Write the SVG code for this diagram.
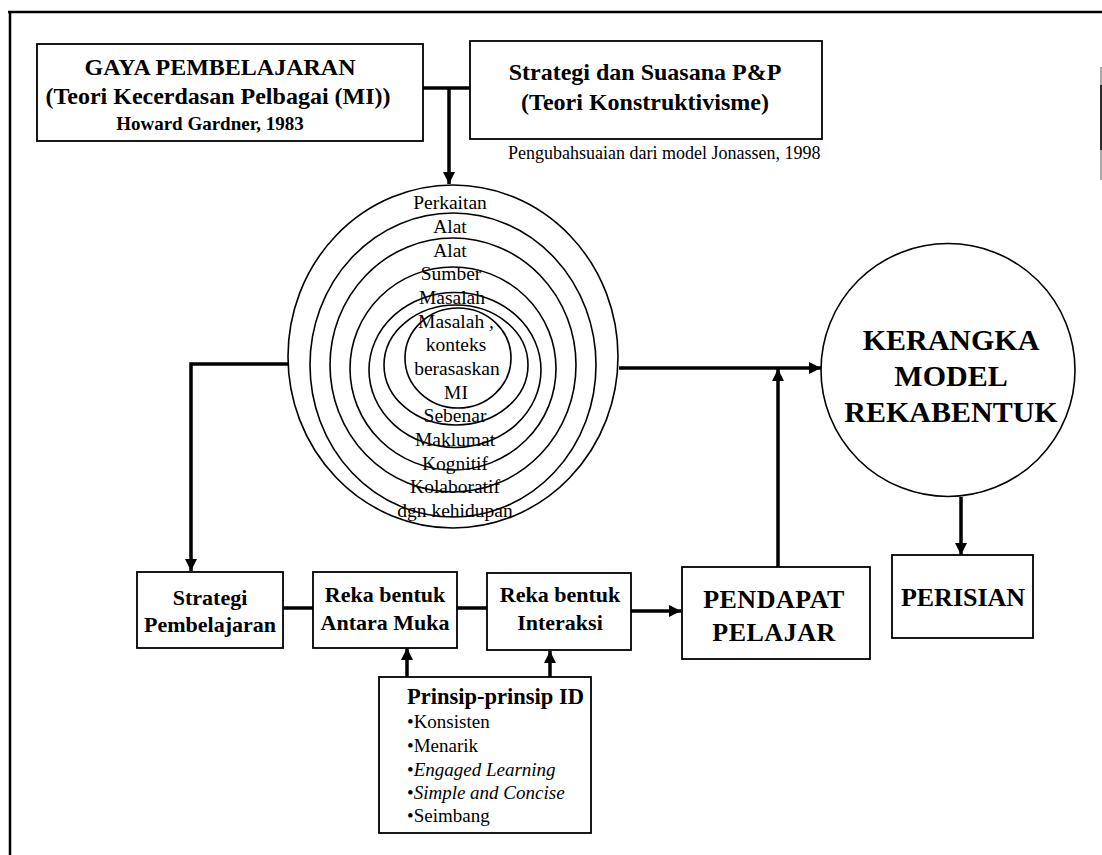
<svg xmlns="http://www.w3.org/2000/svg" width="1102" height="855" viewBox="0 0 1102 855">
<style>
text{font-family:"Liberation Serif","Times New Roman",serif;fill:#000}
.b{font-weight:bold}
.box{fill:#fff;stroke:#000;stroke-width:1.8}
.ring{fill:none;stroke:#000;stroke-width:1.6}
.con{fill:none;stroke:#000;stroke-width:3.5}
.ct{font-size:19.5px;text-anchor:middle}
.bt{font-size:22px;font-weight:bold;text-anchor:middle}
.li{font-size:19px}
</style>
<defs>
<marker id="ah" markerUnits="userSpaceOnUse" markerWidth="14" markerHeight="12" refX="12" refY="6" orient="auto" viewBox="0 0 14 12">
<path d="M0,0 L12,6 L0,12 z" fill="#000"/>
</marker>
</defs>
<rect width="1102" height="855" fill="#fff"/>
<g id="frame" fill="none" stroke="#000">
<path d="M8,12 H1102 M10,12 V855" stroke-width="2.5"/>
<path d="M1101,67 V180" stroke-width="1" stroke="#555"/>
<path d="M1101,85 V150" stroke-width="1.5"/>
</g>
<g id="connectors">
<path class="con" d="M423,88 H470"/>
<path class="con" d="M449,88 V184" marker-end="url(#ah)"/>
<path class="con" d="M289,364 H191 V571" marker-end="url(#ah)"/>
<path class="con" d="M283,608 H313"/>
<path class="con" d="M457,608 H487"/>
<path class="con" d="M631,611 H681" marker-end="url(#ah)"/>
<path class="con" d="M778,567 V369" marker-end="url(#ah)"/>
<path class="con" d="M619,368 H821" marker-end="url(#ah)"/>
<path class="con" d="M961,497 V555" marker-end="url(#ah)"/>
<path class="con" d="M407,677 V648" marker-end="url(#ah)"/>
<path class="con" d="M550,677 V651" marker-end="url(#ah)"/>
</g>
<g id="gaya">
<rect class="box" x="37" y="44" width="386" height="97"/>
<text x="220" y="75" class="b" font-size="24" text-anchor="middle">GAYA PEMBELAJARAN</text>
<text x="218" y="104" class="b" font-size="24" text-anchor="middle">(Teori Kecerdasan Pelbagai (MI))</text>
<text x="210" y="130" class="b" font-size="19" text-anchor="middle">Howard Gardner, 1983</text>
</g>
<g id="strategi-suasana">
<rect class="box" x="470" y="41" width="352" height="98"/>
<text x="645" y="80" class="b" font-size="24" text-anchor="middle">Strategi dan Suasana P&amp;P</text>
<text x="645" y="110" class="b" font-size="24" text-anchor="middle">(Teori Konstruktivisme)</text>
</g>
<g id="sumber-nota">
<text x="508" y="159" font-size="18">Pengubahsuaian dari model Jonassen, 1998</text>
</g>
<g id="model-jonassen">
<ellipse class="ring" cx="453" cy="356.5" rx="165" ry="171.5"/>
<ellipse class="ring" cx="453" cy="365" rx="143" ry="152"/>
<ellipse class="ring" cx="453" cy="365" rx="123" ry="127"/>
<ellipse class="ring" cx="453" cy="368.5" rx="103" ry="101.5"/>
<ellipse class="ring" cx="455" cy="370" rx="86" ry="77.5"/>
<ellipse class="ring" cx="456" cy="365" rx="72" ry="60"/>
<ellipse class="ring" cx="458" cy="358" rx="53" ry="50"/>
<text class="ct" x="450" y="209">Perkaitan</text>
<text class="ct" x="450" y="233">Alat</text>
<text class="ct" x="450" y="256.6">Alat</text>
<text class="ct" x="451" y="280.3">Sumber</text>
<text class="ct" x="452" y="303.9">Masalah</text>
<text class="ct" x="456" y="327.6">Masalah ,</text>
<text class="ct" x="456" y="351.2">konteks</text>
<text class="ct" x="457" y="374.9">berasaskan</text>
<text class="ct" x="456" y="398.5">MI</text>
<text class="ct" x="455" y="422.2">Sebenar</text>
<text class="ct" x="455" y="445.8">Maklumat</text>
<text class="ct" x="455" y="469.5">Kognitif</text>
<text class="ct" x="455" y="493.1">Kolaboratif</text>
<text class="ct" x="455" y="516.8">dgn kehidupan</text>
</g>
<g id="kerangka">
<ellipse class="ring" cx="948" cy="370" rx="127" ry="126.5"/>
<text x="951" y="350" class="b" font-size="30" text-anchor="middle">KERANGKA</text>
<text x="951" y="386" class="b" font-size="30" text-anchor="middle">MODEL</text>
<text x="951" y="422" class="b" font-size="30" text-anchor="middle">REKABENTUK</text>
</g>
<g id="strategi-pembelajaran">
<rect class="box" x="137" y="572" width="146" height="76"/>
<text class="bt" x="210" y="605">Strategi</text>
<text class="bt" x="210" y="632">Pembelajaran</text>
</g>
<g id="reka-antara-muka">
<rect class="box" x="313" y="572" width="144" height="76"/>
<text class="bt" x="385" y="602">Reka bentuk</text>
<text class="bt" x="385" y="630">Antara Muka</text>
</g>
<g id="reka-interaksi">
<rect class="box" x="487" y="573" width="144" height="77"/>
<text class="bt" x="560" y="602">Reka bentuk</text>
<text class="bt" x="560" y="630">Interaksi</text>
</g>
<g id="pendapat-pelajar">
<rect class="box" x="682" y="567" width="188" height="92"/>
<text x="774" y="608" class="b" font-size="26" text-anchor="middle" letter-spacing="0.5">PENDAPAT</text>
<text x="774" y="641" class="b" font-size="26" text-anchor="middle" letter-spacing="0.5">PELAJAR</text>
</g>
<g id="perisian">
<rect class="box" x="892" y="555" width="141" height="83"/>
<text x="963" y="606" class="b" font-size="26" text-anchor="middle">PERISIAN</text>
</g>
<g id="prinsip-id">
<rect class="box" x="379" y="677" width="212" height="156"/>
<text x="407" y="704" class="b" font-size="22.5">Prinsip-prinsip ID</text>
<text x="407" y="728" class="li">•Konsisten</text>
<text x="407" y="752" class="li">•Menarik</text>
<text x="407" y="776" class="li">•<tspan font-style="italic">Engaged Learning</tspan></text>
<text x="407" y="799" class="li">•<tspan font-style="italic">Simple and Concise</tspan></text>
<text x="407" y="822" class="li">•Seimbang</text>
</g>
</svg>
